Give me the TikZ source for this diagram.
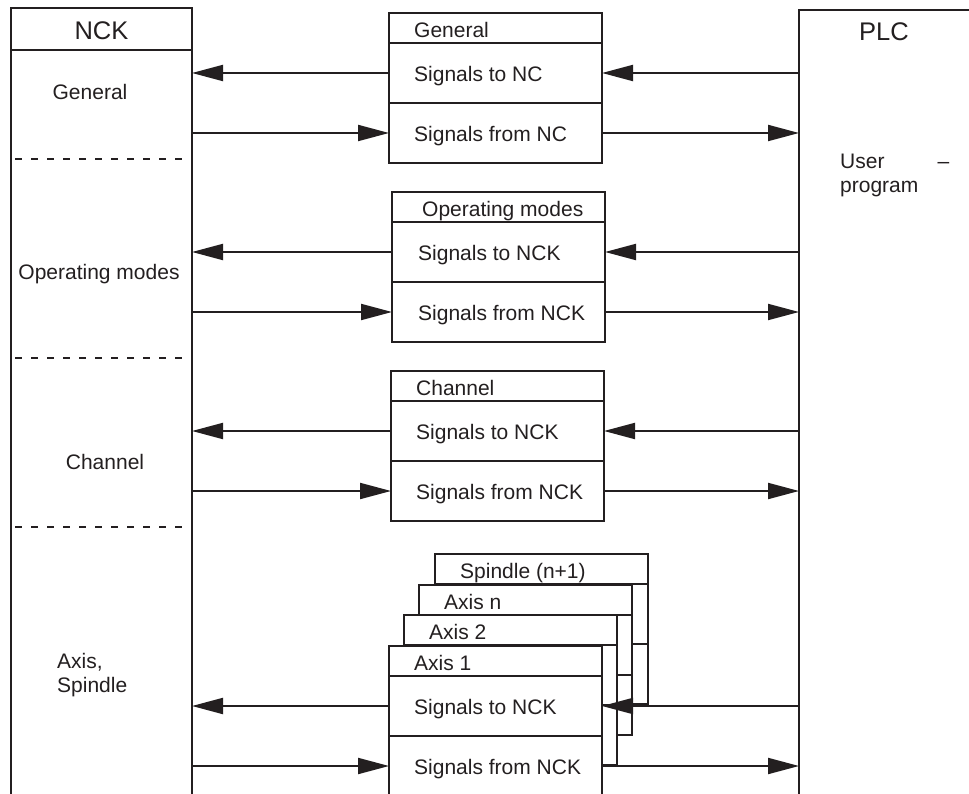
\documentclass[tikz,border=0pt]{standalone}
\usepackage{fontspec}
\setmainfont{Liberation Sans}
\usepackage{tikz}
\usetikzlibrary{arrows.meta, positioning}
\definecolor{ink}{HTML}{231F20}
\tikzset{
  head/.style = {rectangle, draw=ink, fill=white, text=ink, line width=2pt,
    outer sep=0pt, inner sep=0pt, minimum width=213pt, minimum height=30pt, anchor=north west},
  row/.style = {head, minimum height=60pt},
  label text/.style = {inner sep=0pt, text height=.75em, text depth=0pt, text=ink},
  txt/.style = {label text, yshift=-4pt},
  rowtxt/.style = {label text, yshift=-5pt},
  headtxt/.style = {label text, yshift=-6pt},
  bigtxt/.style = {label text, font=\fontsize{25.5}{30}\selectfont, yshift=-7pt},
  arrow/.style = {color=ink, line width=2pt, -{Triangle[length=31pt, width=16pt]}},
  divider/.style = {draw=ink, line width=2pt, dash pattern=on 7pt off 9pt},
}
\begin{document}
\begin{tikzpicture}[x=1pt, y=-1pt, font=\fontsize{21}{24}\selectfont]
  \useasboundingbox (0,0) rectangle (969,794);

  % NCK column
  \node[head, minimum width=181pt, minimum height=42pt] (nckH) at (11,8) {};
  \node[bigtxt] (nckT) at (nckH.center) {NCK};
  \node[head, minimum width=181pt, minimum height=745pt, below=0pt of nckH] (nck) {};
  \node[txt] (nckGen) at (90,92) {General};
  \node[txt] (nckOp) at (99,272) {Operating modes};
  \node[txt] (nckCh) at (105,462) {Channel};
  \node[inner sep=0pt, align=left, anchor=north west, text=ink] (nckAx) at (57,653) {Axis,\\Spindle};
  \draw[divider] (15,159) -- (188,159);
  \draw[divider] (15,358) -- (188,358);
  \draw[divider] (15,527) -- (188,527);

  % PLC column
  \node[head, minimum width=172pt, minimum height=785pt] (plc) at (799,10) {};
  \node[bigtxt] (plcT) at (884,29.5) {PLC};
  \node[inner sep=0pt, align=left, anchor=north west, text=ink] (usr) at (840,154) {User\hspace{53pt}–\\program};

  % General
  \node[head] (genH) at (389,13) {};
  \node[row, below=0pt of genH] (genTo) {};
  \node[row, below=0pt of genTo] (genFrom) {};
  \node[headtxt, right=25pt of genH.west] (genHT) {General};
  \node[rowtxt, right=25pt of genTo.west] (genToT) {Signals to NC};
  \node[rowtxt, right=25pt of genFrom.west] (genFromT) {Signals from NC};

  % Operating modes
  \node[head] (opH) at (392,192) {};
  \node[row, below=0pt of opH] (opTo) {};
  \node[row, below=0pt of opTo] (opFrom) {};
  \node[headtxt, right=30pt of opH.west] (opHT) {Operating modes};
  \node[rowtxt, right=26pt of opTo.west] (opToT) {Signals to NCK};
  \node[rowtxt, right=26pt of opFrom.west] (opFromT) {Signals from NCK};

  % Channel
  \node[head] (chH) at (391,371) {};
  \node[row, below=0pt of chH] (chTo) {};
  \node[row, below=0pt of chTo] (chFrom) {};
  \node[headtxt, right=25pt of chH.west] (chHT) {Channel};
  \node[rowtxt, right=25pt of chTo.west] (chToT) {Signals to NCK};
  \node[rowtxt, right=25pt of chFrom.west] (chFromT) {Signals from NCK};

  % Axis / spindle stack, back to front
  \node[head] (spH) at (435,554) {};
  \node[row, below=0pt of spH] (spTo) {};
  \node[row, below=0pt of spTo] (spFrom) {};
  \node[headtxt, right=25pt of spH.west] (spHT) {Spindle (n+1)};

  \node[head] (axnH) at (419,585) {};
  \node[row, below=0pt of axnH] (axnTo) {};
  \node[row, below=0pt of axnTo] (axnFrom) {};
  \node[headtxt, right=25pt of axnH.west] (axnHT) {Axis n};

  \node[head] (ax2H) at (404,615) {};
  \node[row, below=0pt of ax2H] (ax2To) {};
  \node[row, below=0pt of ax2To] (ax2From) {};
  \node[headtxt, right=25pt of ax2H.west] (ax2HT) {Axis 2};

  \node[head] (ax1H) at (389,646) {};
  \node[row, below=0pt of ax1H] (ax1To) {};
  \node[row, below=0pt of ax1To] (ax1From) {};
  \node[headtxt, right=25pt of ax1H.west] (ax1HT) {Axis 1};
  \node[rowtxt, right=25pt of ax1To.west] (ax1ToT) {Signals to NCK};
  \node[rowtxt, right=25pt of ax1From.west] (ax1FromT) {Signals from NCK};

  % Signals PLC -> NCK
  \draw[arrow] (genTo.east -| plc.west) -- (genTo.east);
  \draw[arrow] (genTo.west) -- (genTo.west -| nck.east);
  \draw[arrow] (opTo.east -| plc.west) -- (opTo.east);
  \draw[arrow] (opTo.west) -- (opTo.west -| nck.east);
  \draw[arrow] (chTo.east -| plc.west) -- (chTo.east);
  \draw[arrow] (chTo.west) -- (chTo.west -| nck.east);
  \draw[arrow] (ax1To.east -| plc.west) -- (ax1To.east);
  \draw[arrow] (ax1To.west) -- (ax1To.west -| nck.east);

  % Signals NCK -> PLC
  \draw[arrow] (genFrom.west -| nck.east) -- (genFrom.west);
  \draw[arrow] (genFrom.east) -- (genFrom.east -| plc.west);
  \draw[arrow] (opFrom.west -| nck.east) -- (opFrom.west);
  \draw[arrow] (opFrom.east) -- (opFrom.east -| plc.west);
  \draw[arrow] (chFrom.west -| nck.east) -- (chFrom.west);
  \draw[arrow] (chFrom.east) -- (chFrom.east -| plc.west);
  \draw[arrow] (ax1From.west -| nck.east) -- (ax1From.west);
  \draw[arrow] (ax1From.east) -- (ax1From.east -| plc.west);

\end{tikzpicture}
\end{document}
